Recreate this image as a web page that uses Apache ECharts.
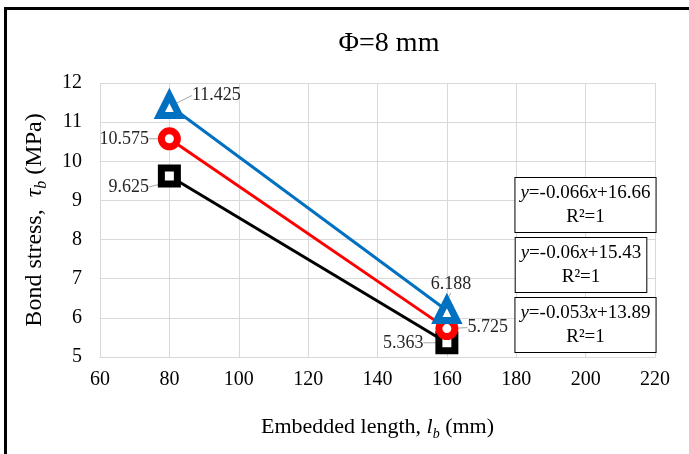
<!DOCTYPE html>
<html>
<head>
<meta charset="utf-8">
<script src="https://cdn.jsdelivr.net/npm/echarts@6/dist/echarts.min.js"></script>
<style>
  html, body { margin: 0; padding: 0; background: #fff; }
  #chart { width: 689px; height: 454px; }
</style>
</head>
<body>
<div id="chart"></div>
<script>
// embedded length (mm)
const lengths = [80, 160];
// bond stress (MPa) per marker series
const triangleVals = [11.425, 6.188];
const circleVals = [10.575, 5.725];
const squareVals = [9.625, 5.363];
// trendline equations shown in the boxes
const equations = [
  ["-0.066", "+16.66"],
  ["-0.06", "+15.43"],
  ["-0.053", "+13.89"]
];
const xTicks = [60, 220, 20];
const yTicks = [5, 12, 1];

const serif = "Liberation Serif";
const dom = document.getElementById("chart");
const chart = echarts.init(dom);

// label placement for each series: [position at 80, position at 160]
const labelPos = {
  black: ["left", "left"],
  red: ["left", "right"],
  blue: ["right", "top"]
};
const labelShift = {
  black: [[0, 11], [-3, 0]],
  red: [[0, 0], [0, -1]],
  blue: [[0, -10], [4, 5]]
};

function makeSeries(key, name, vals, color, symbol, size) {
  return {
    name: name,
    type: "line",
    data: lengths.map((x, i) => ({
      value: [x, vals[i]],
      label: { position: labelPos[key][i] }
    })),
    symbol: symbol,
    symbolSize: size,
    showAllSymbol: true,
    lineStyle: { color: color, width: 3 },
    itemStyle: { color: "#fff", borderColor: color, borderWidth: 7 },
    label: {
      show: true,
      distance: 9,
      fontFamily: serif,
      fontSize: 18,
      color: "#262626",
      formatter: p => p.value[1].toFixed(3)
    },
    labelLine: { show: true, lineStyle: { color: "#a6a6a6", width: 1 } },
    labelLayout: p => ({ dx: labelShift[key][p.dataIndex][0], dy: labelShift[key][p.dataIndex][1] }),
    emphasis: { disabled: true }
  };
}

const boxTexts = equations.map(e => "{i|y}=" + e[0] + "{i|x}" + e[1] + "\nR²=1");
const boxCenters = [[585.5, 178], [581, 238], [585.5, 298]];

const nameRich = size => ({
  n: { fontFamily: serif, fontSize: size, color: "#000", lineHeight: size + 6 },
  it: { fontFamily: serif, fontSize: size, fontStyle: "italic", color: "#000", lineHeight: size + 6 },
  sub: { fontFamily: serif, fontSize: Math.round(size * 0.65), fontStyle: "italic", color: "#000", lineHeight: size + 6, verticalAlign: "bottom", padding: [9, 0, 0, 0] }
});

const option = {
  backgroundColor: "#fff",
  animation: false,
  title: {
    text: "Φ=8 mm",
    left: 384,
    textAlign: "center",
    top: 25,
    textStyle: { fontFamily: serif, fontSize: 28, fontWeight: "normal", color: "#000" }
  },
  grid: { left: 100, right: 34, top: 83, bottom: 97 },
  xAxis: {
    type: "value",
    min: xTicks[0], max: xTicks[1], interval: xTicks[2],
    name: "{n|Embedded length, }{it|l}{sub|b}{n| (mm)}",
    nameLocation: "middle",
    nameGap: 56,
    nameTextStyle: { rich: nameRich(22) },
    axisLine: { show: true, lineStyle: { color: "#d9d9d9" } },
    axisTick: { show: false },
    axisLabel: { fontFamily: serif, fontSize: 20, color: "#000", margin: 13 },
    splitLine: { show: true, lineStyle: { color: "#d9d9d9" } }
  },
  yAxis: {
    type: "value",
    min: yTicks[0], max: yTicks[1], interval: yTicks[2],
    name: "{n|Bond stress,  }{it|τ}{sub|b}{n| (MPa)}",
    nameLocation: "middle",
    nameGap: 50,
    nameRotate: 90,
    nameTextStyle: { rich: nameRich(24) },
    axisLine: { show: false },
    axisTick: { show: false },
    axisLabel: { fontFamily: serif, fontSize: 20, color: "#000", margin: 18 },
    splitLine: { show: true, lineStyle: { color: "#d9d9d9" } }
  },
  series: [
    makeSeries("black", "square", squareVals, "#000000", "rect", 16),
    makeSeries("red", "circle", circleVals, "#ff0000", "circle", 16),
    makeSeries("blue", "triangle", triangleVals, "#0070c0", "triangle", 20)
  ],
  graphic: [
    { type: "line", shape: { x1: 4, y1: 8.5, x2: 689, y2: 8.5 }, style: { stroke: "#000", lineWidth: 3 } },
    { type: "line", shape: { x1: 5.5, y1: 7, x2: 5.5, y2: 454 }, style: { stroke: "#000", lineWidth: 3 } }
  ].concat(boxTexts.map((t, i) => ({
    type: "text",
    x: boxCenters[i][0],
    y: boxCenters[i][1],
    z: 10,
    style: {
      text: t,
      align: "center",
      verticalAlign: "top",
      fontFamily: serif,
      fontSize: 19,
      lineHeight: 24,
      fill: "#000",
      backgroundColor: "#fff",
      borderColor: "#000",
      borderWidth: 1,
      padding: [3, 5, 3, 5],
      rich: {
        i: { fontFamily: serif, fontSize: 19, fontStyle: "italic", lineHeight: 24, fill: "#000" }
      }
    }
  })))
};

chart.setOption(option);
window.addEventListener("resize", () => chart.resize());
</script>
</body>
</html>
